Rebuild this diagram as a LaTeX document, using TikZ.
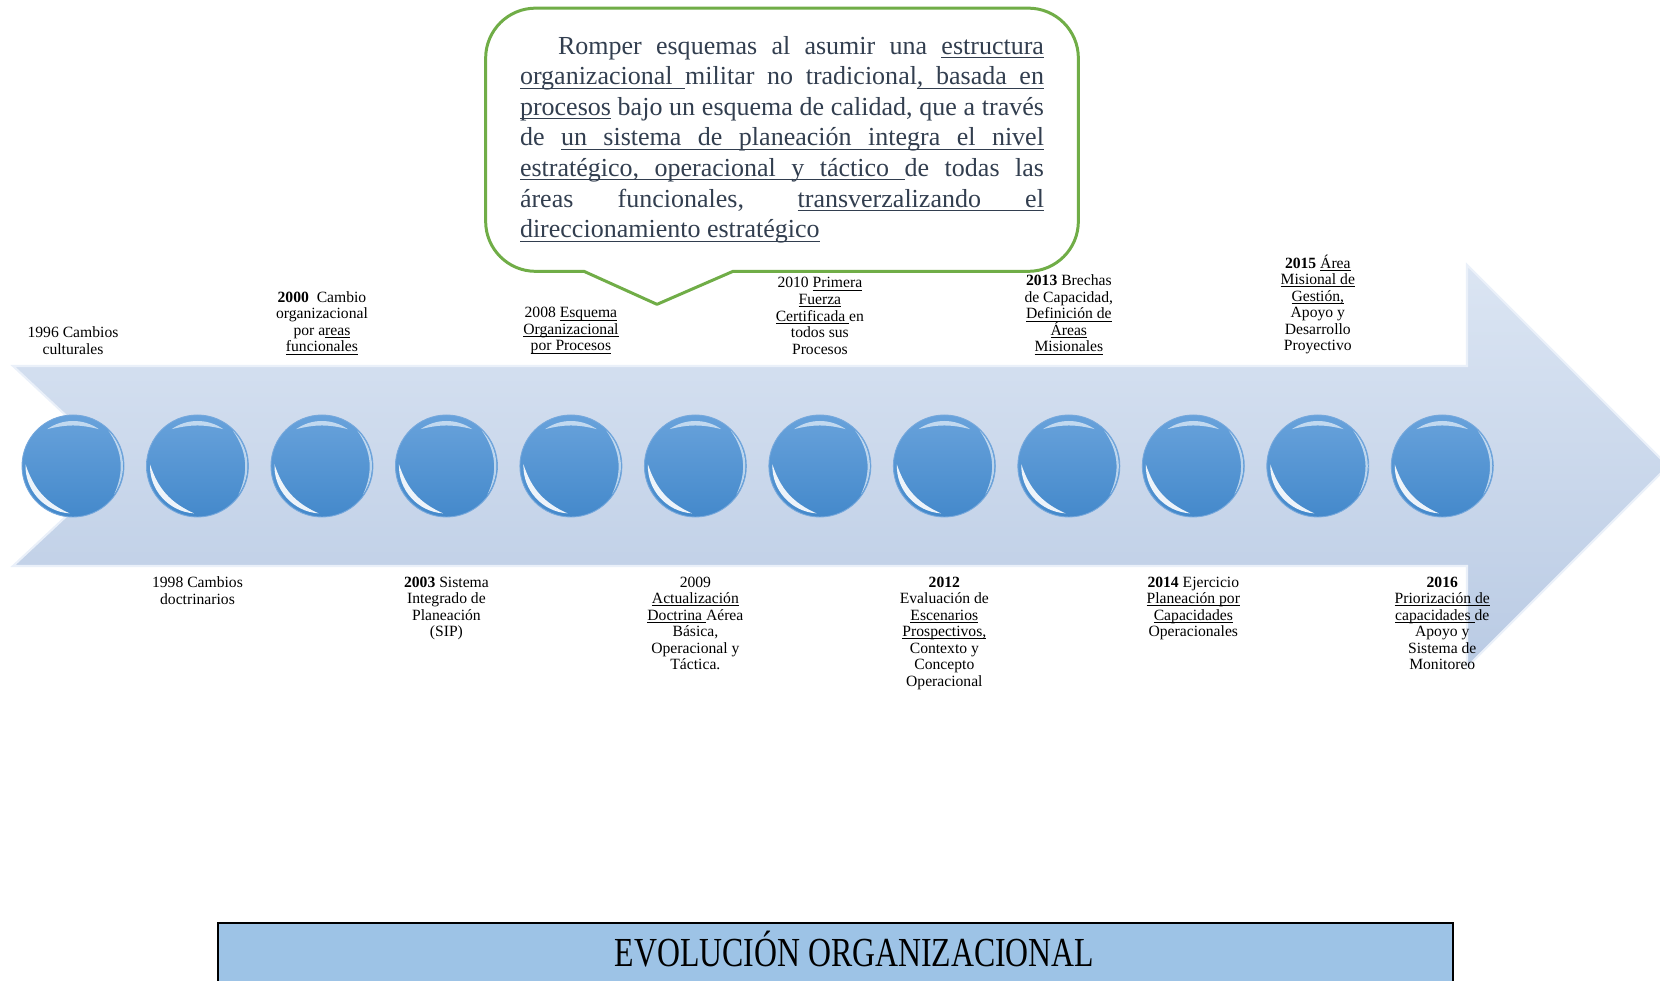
\documentclass[tikz,border=0pt]{standalone}
\usepackage{fontspec}
\setmainfont{Liberation Serif}
\usepackage{graphicx}
\usetikzlibrary{positioning, calc, backgrounds}

\definecolor{arrowTop}{RGB}{219,229,243}
\definecolor{arrowBot}{RGB}{186,203,228}
\definecolor{arrowEdge}{RGB}{234,240,249}
\definecolor{ballTop}{RGB}{104,162,219}
\definecolor{ballBot}{RGB}{68,137,203}
\definecolor{ballRim}{RGB}{118,168,220}
\definecolor{calloutGreen}{RGB}{112,173,71}
\definecolor{calloutText}{RGB}{50,62,79}
\definecolor{titleFill}{RGB}{157,195,230}

% underlined words and stretchable underlined spaces
\newbox\ulbox
\newcommand\ulword[1]{\setbox\ulbox\hbox{#1}\rlap{\vrule height -.11em depth .15em width \wd\ulbox}\box\ulbox}
\newcommand\ulspace{\leaders\hrule height -.11em depth .15em\hskip\fontdimen2\font plus\fontdimen3\font minus\fontdimen4\font\relax}
\def\ulp#1{\ulpi#1 \ulpend}
\def\ulpi#1 #2\ulpend{\ulword{#1}\ifx\relax#2\relax\else\ulspace\ulpi#2\ulpend\fi}

\begin{document}
\begin{tikzpicture}[
  arrowbody/.style={top color=arrowTop, bottom color=arrowBot, draw=arrowEdge, line width=1.2pt},
  ball/.style={circle, minimum size=2.04cm, inner sep=0pt, top color=ballTop, bottom color=ballBot,
               draw=ballRim, line width=0.5pt,
               path picture={
                 \begin{scope}[shift={(path picture bounding box.center)}]
                   \fill[white, opacity=0.6] (55:0.9) arc[start angle=55, end angle=125, radius=0.9cm]
                     to[bend left=14] (55:0.9);
                   \fill[white, opacity=0.9] (178:0.95) arc[start angle=178, end angle=266, radius=0.95cm]
                     to[bend left=24] (178:0.95);
                   \fill[white, opacity=0.6] (-35:1.0) arc[start angle=-35, end angle=45, radius=1.0cm]
                     to[bend left=30] (-35:1.0);
                 \end{scope}}},
  lbl/.style={align=center, inner sep=0pt, font=\fontsize{8.9}{9.4}\selectfont},
  callout/.style={minimum width=11.84cm, minimum height=5.25cm, text width=10.48cm,
                  align=justify, text=calloutText, font=\fontsize{14.8}{17.4}\selectfont},
  bubble/.style={draw=calloutGreen, line width=1.7pt, fill=white, line join=round},
  titlebox/.style={draw=black, line width=1.2pt, fill=titleFill, minimum width=24.7cm,
                   text height=0.56cm, text depth=1.2cm, inner ysep=0.3cm},
]
\useasboundingbox (0,0) rectangle (33.2,19.6);

% Timeline arrow
\draw[arrowbody] (0.26,12.28) -- (29.34,12.28) -- (29.34,14.30) -- (33.36,10.28)
  -- (29.34,6.26) -- (29.34,8.28) -- (0.26,8.28) -- (2.40,10.28) -- cycle;

% Milestones
\node[ball] (b1) at (1.46,10.28) {};
\node[ball, right=0.432cm of b1] (b2) {};
\node[ball, right=0.432cm of b2] (b3) {};
\node[ball, right=0.432cm of b3] (b4) {};
\node[ball, right=0.432cm of b4] (b5) {};
\node[ball, right=0.432cm of b5] (b6) {};
\node[ball, right=0.432cm of b6] (b7) {};
\node[ball, right=0.432cm of b7] (b8) {};
\node[ball, right=0.432cm of b8] (b9) {};
\node[ball, right=0.432cm of b9] (b10) {};
\node[ball, right=0.432cm of b10] (b11) {};
\node[ball, right=0.432cm of b11] (b12) {};

% Years above the arrow
\node[lbl, above=1.2cm of b1] (n1996) {1996 Cambios\\culturales};
\node[lbl, above=1.2cm of b3] (n2000) {\textbf{2000}~ Cambio\\organizacional\\por a\ulp{reas}\\\ulp{funcionales}};
\node[lbl, above=1.2cm of b5] (n2008) {2008 \ulp{Esquema}\\\ulp{Organizacional}\\\ulp{por Procesos}};
\node[lbl, above=1.2cm of b7] (n2010) {2010 \ulp{Primera}\\\ulp{Fuerza}\\\ulp{Certificada}\ulspace en\\todos sus\\Procesos};
\node[lbl, above=1.2cm of b9] (n2013) {\textbf{2013} Brechas\\de Capacidad,\\\ulp{Definición de}\\\ulp{Áreas}\\\ulp{Misionales}};
\node[lbl, above=1.2cm of b11] (n2015) {\textbf{2015} \ulp{Área}\\\ulp{Misional de}\\\ulp{Gestión,}\\Apoyo y\\Desarrollo\\Proyectivo};

% Years below the arrow
\node[lbl, below=1.18cm of b2] (n1998) {1998 Cambios\\doctrinarios};
\node[lbl, below=1.18cm of b4] (n2003) {\textbf{2003} Sistema\\Integrado de\\Planeación\\(SIP)};
\node[lbl, below=1.18cm of b6] (n2009) {2009\\\ulp{Actualización}\\\ulp{Doctrina}\ulspace Aérea\\Básica,\\Operacional y\\Táctica.};
\node[lbl, below=1.18cm of b8] (n2012) {\textbf{2012}\\Evaluación de\\\ulp{Escenarios}\\\ulp{Prospectivos,}\\Contexto y\\Concepto\\Operacional};
\node[lbl, below=1.18cm of b10] (n2014) {\textbf{2014} Ejercicio\\\ulp{Planeación por}\\\ulp{Capacidades}\\Operacionales};
\node[lbl, below=1.18cm of b12] (n2016) {\textbf{2016}\\\ulp{Priorización de}\\\ulp{capacidades}\ulspace de\\Apoyo y\\Sistema de\\Monitoreo};

% Speech bubble text
\node[callout] (idea) at (15.64,16.805) {%
  \hspace*{0.76cm}Romper esquemas al asumir una \ulp{estructura}\linebreak
  \ulp{organizacional}\ulspace militar no tradicional\ulp{, basada en}\linebreak
  \ulp{procesos} bajo un esquema de calidad, que a través\linebreak
  de \ulp{un sistema de planeación integra el nivel}\linebreak
  \ulp{estratégico, operacional y táctico}\ulspace de todas las\linebreak
  áreas funcionales, \ulp{transverzalizando el}\linebreak
  \ulp{direccionamiento estratégico}};

% Bubble outline with its pointer (behind the text)
\begin{pgfonlayer}{background}
  \draw[bubble] ($(idea.south)+(-3.96,0)$) -- ($(idea.south west)+(1,0)$)
    arc[start angle=270, end angle=180, radius=1cm] -- ($(idea.north west)+(0,-1)$)
    arc[start angle=180, end angle=90, radius=1cm] -- ($(idea.north east)+(-1,0)$)
    arc[start angle=90, end angle=0, radius=1cm] -- ($(idea.south east)+(0,1)$)
    arc[start angle=0, end angle=-90, radius=1cm] -- ($(idea.south)+(-0.98,0)$)
    -- ($(idea.south)+(-2.5,-0.66)$) -- cycle;
\end{pgfonlayer}

% Title
\node[titlebox, anchor=north] (title) at (16.71,1.16)
  {\hspace*{0.76cm}\scalebox{0.77}[1]{\fontsize{23.5}{28}\selectfont EVOLUCIÓN ORGANIZACIONAL}};

\end{tikzpicture}
\end{document}
